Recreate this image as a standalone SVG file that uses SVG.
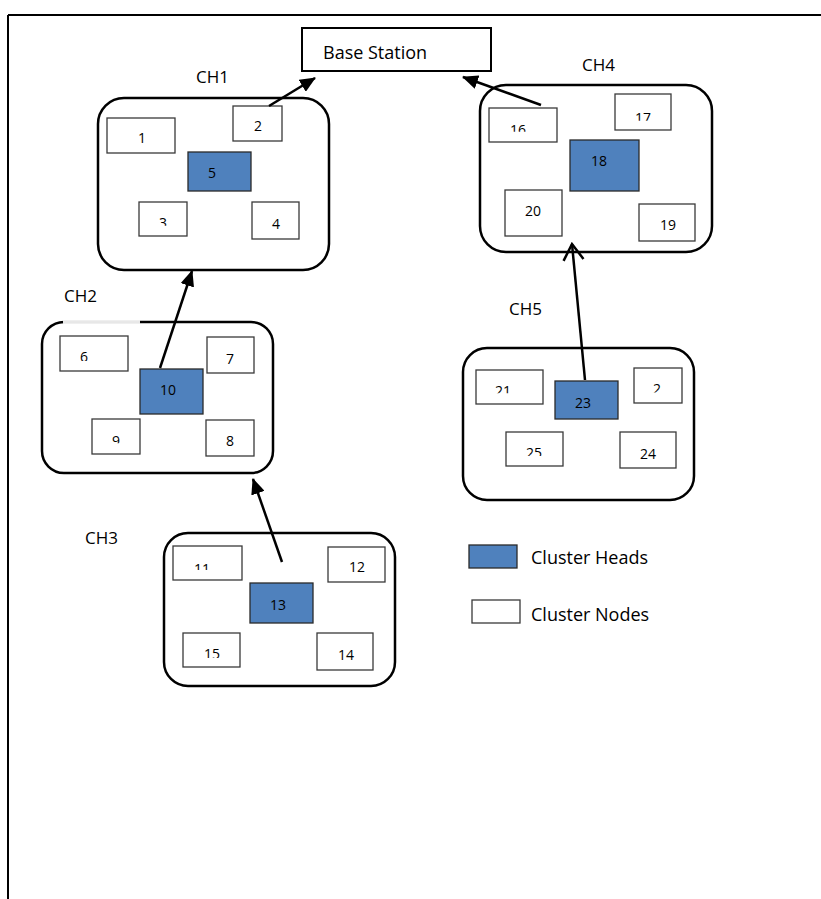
<svg xmlns="http://www.w3.org/2000/svg" width="821" height="899" viewBox="0 0 821 899">
<style>
  .frame{stroke:#000;stroke-width:2;fill:none}
  .cluster{fill:#fff;stroke:#000;stroke-width:2.5}
  .node{fill:#fff;stroke:#3a3a3a;stroke-width:1.3}
  .head{fill:#4f81bd;stroke:#2a2a2a;stroke-width:1.3}
  .num{font-family:"Open Sans","Liberation Sans",sans-serif;font-size:14px;text-anchor:middle;fill:#000}
  .lbl{font-family:"Open Sans","Liberation Sans",sans-serif;font-size:17px;fill:#000}
  .big{font-family:"Open Sans","Liberation Sans",sans-serif;font-size:18px;fill:#000}
  .conn{stroke:#000;stroke-width:2.5;fill:none}
</style>
<defs>
  <marker id="arrow" markerUnits="userSpaceOnUse" viewBox="0 0 16 14" markerWidth="16" markerHeight="14" refX="15" refY="7" orient="auto">
    <path d="M0,0 L16,7 L0,14 z" fill="#000"/>
  </marker>
  <marker id="open" markerUnits="userSpaceOnUse" viewBox="-2 -12 20 24" markerWidth="20" markerHeight="24" refX="16" refY="0" orient="auto">
    <path d="M0,-10 L16,0 L0,10" fill="none" stroke="#000" stroke-width="2.5"/>
  </marker>
  <clipPath id="c3"><rect x="130" y="200" width="70" height="25.7"/></clipPath>
  <clipPath id="c16"><rect x="480" y="100" width="90" height="31.7"/></clipPath>
  <clipPath id="c17"><rect x="610" y="90" width="70" height="30.7"/></clipPath>
  <clipPath id="c21"><rect x="470" y="370" width="80" height="23.3"/></clipPath>
  <clipPath id="c22"><rect x="630" y="365" width="60" height="27.5"/></clipPath>
  <clipPath id="c25"><rect x="500" y="430" width="70" height="26"/></clipPath>
  <clipPath id="c6"><rect x="55" y="330" width="80" height="31"/></clipPath>
  <clipPath id="c9"><rect x="90" y="415" width="55" height="28.3"/></clipPath>
  <clipPath id="c11"><rect x="170" y="540" width="80" height="30"/></clipPath>
  <clipPath id="c15"><rect x="180" y="630" width="65" height="28"/></clipPath>
</defs>
<rect width="821" height="899" fill="#fff"/>
<g id="frame">
  <line class="frame" x1="8" y1="15" x2="821" y2="15"/>
  <line class="frame" x1="8" y1="15" x2="8" y2="899"/>
</g>

<g id="base-station">
  <rect x="302" y="28" width="189" height="43" fill="#fff" stroke="#000" stroke-width="2"/>
  <text class="big" x="323" y="59">Base Station</text>
</g>

<g id="ch1">
  <text class="lbl" x="196" y="83">CH1</text>
  <rect class="cluster" x="98" y="98" width="231" height="172" rx="26"/>
  <g id="n1"><rect class="node" x="107" y="118" width="68" height="35"/><text class="num" x="142" y="143">1</text></g>
  <g id="n2"><rect class="node" x="233" y="106" width="49" height="35"/><text class="num" x="258" y="131">2</text></g>
  <g id="n5"><rect class="head" x="188" y="152" width="63" height="39"/><text class="num" x="212" y="178">5</text></g>
  <g id="n3"><rect class="node" x="139" y="202" width="48" height="34"/><text class="num" x="163" y="228" clip-path="url(#c3)">3</text></g>
  <g id="n4"><rect class="node" x="252" y="202" width="47" height="37"/><text class="num" x="276" y="228.5">4</text></g>
</g>

<g id="ch4">
  <text class="lbl" x="582" y="71">CH4</text>
  <rect class="cluster" x="480" y="85" width="232" height="167" rx="26"/>
  <g id="n16"><rect class="node" x="489" y="108" width="68" height="34"/><text class="num" x="518" y="134.5" clip-path="url(#c16)">16</text></g>
  <g id="n17"><rect class="node" x="615" y="94" width="56" height="36"/><text class="num" x="643" y="122.5" clip-path="url(#c17)">17</text></g>
  <g id="n18"><rect class="head" x="570" y="140" width="69" height="51"/><text class="num" x="599" y="166">18</text></g>
  <g id="n20"><rect class="node" x="505" y="190" width="57" height="46"/><text class="num" x="533" y="216">20</text></g>
  <g id="n19"><rect class="node" x="639" y="204" width="56" height="37"/><text class="num" x="668" y="230">19</text></g>
</g>

<g id="ch2">
  <text class="lbl" x="64" y="301.5">CH2</text>
  <rect class="cluster" x="42" y="322" width="231" height="151" rx="22"/>
  <line x1="63" y1="322" x2="140" y2="322" stroke="#fff" stroke-width="3.5"/>
  <line x1="63" y1="322" x2="140" y2="322" stroke="#d0d0d0" stroke-width="1"/>
  <g id="n6"><rect class="node" x="60" y="336" width="68" height="35"/><text class="num" x="84" y="362" clip-path="url(#c6)">6</text></g>
  <g id="n7"><rect class="node" x="207" y="337" width="47" height="36"/><text class="num" x="230" y="363.5">7</text></g>
  <g id="n10"><rect class="head" x="140" y="369" width="63" height="45"/><text class="num" x="168" y="395">10</text></g>
  <g id="n9"><rect class="node" x="92" y="419" width="48" height="35"/><text class="num" x="116" y="445.5" clip-path="url(#c9)">9</text></g>
  <g id="n8"><rect class="node" x="206" y="420" width="48" height="36"/><text class="num" x="230" y="446">8</text></g>
</g>

<g id="ch5">
  <text class="lbl" x="509" y="315">CH5</text>
  <rect class="cluster" x="463" y="348" width="231" height="152" rx="24"/>
  <g id="n21"><rect class="node" x="476" y="370" width="67" height="34"/><text class="num" x="503" y="396" clip-path="url(#c21)">21</text></g>
  <g id="n23"><rect class="head" x="555" y="381" width="63" height="38"/><text class="num" x="583" y="407.5">23</text></g>
  <g id="n22"><rect class="node" x="634" y="368" width="48" height="35"/><text class="num" x="657" y="394" clip-path="url(#c22)">2</text></g>
  <g id="n25"><rect class="node" x="506" y="432" width="57" height="34"/><text class="num" x="534" y="458" clip-path="url(#c25)">25</text></g>
  <g id="n24"><rect class="node" x="620" y="432" width="56" height="36"/><text class="num" x="648" y="458.5">24</text></g>
</g>

<g id="ch3">
  <text class="lbl" x="85" y="544">CH3</text>
  <rect class="cluster" x="164" y="533" width="231" height="153" rx="24"/>
  <g id="n11"><rect class="node" x="173" y="546" width="69" height="34"/><text class="num" x="202" y="573.5" clip-path="url(#c11)">11</text></g>
  <g id="n12"><rect class="node" x="328" y="547" width="57" height="35"/><text class="num" x="357" y="572">12</text></g>
  <g id="n13"><rect class="head" x="250" y="583" width="63" height="40"/><text class="num" x="278" y="609.5">13</text></g>
  <g id="n15"><rect class="node" x="183" y="633" width="57" height="34"/><text class="num" x="212" y="659" clip-path="url(#c15)">15</text></g>
  <g id="n14"><rect class="node" x="317" y="633" width="56" height="37"/><text class="num" x="346" y="659.5">14</text></g>
</g>

<g id="legend">
  <g id="legend-heads"><rect class="head" x="469" y="545" width="48" height="23"/><text class="big" x="531" y="564">Cluster Heads</text></g>
  <g id="legend-nodes"><rect class="node" x="472" y="600" width="48" height="23"/><text class="big" x="531" y="620.5">Cluster Nodes</text></g>
</g>

<g id="connectors">
  <line class="conn" x1="269" y1="106" x2="315" y2="78" marker-end="url(#arrow)"/>
  <line class="conn" x1="541" y1="105" x2="463" y2="77" marker-end="url(#arrow)"/>
  <line class="conn" x1="160" y1="368" x2="192" y2="271" marker-end="url(#arrow)"/>
  <line class="conn" x1="282" y1="562" x2="253" y2="479" marker-end="url(#arrow)"/>
  <line class="conn" x1="585" y1="380" x2="572" y2="244" marker-end="url(#open)"/>
</g>
</svg>
